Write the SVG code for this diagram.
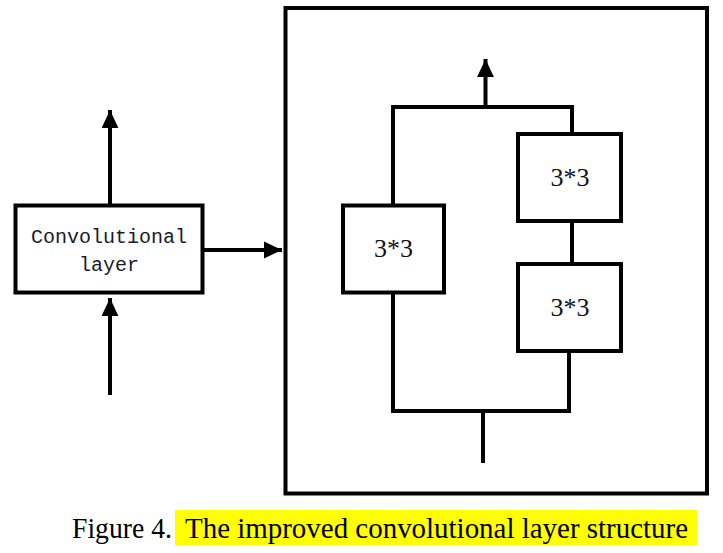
<svg xmlns="http://www.w3.org/2000/svg" width="723" height="553" viewBox="0 0 723 553">
<defs>
<style>
.box{fill:#fff;stroke:#000;stroke-width:4}
.frame{fill:none;stroke:#000;stroke-width:4}
.ln{fill:none;stroke:#000;stroke-width:4;stroke-linejoin:miter}
.mono{font-family:"Liberation Mono","DejaVu Sans Mono",monospace;font-size:20px;fill:#1a1a2e}
.k{font-family:"Liberation Serif","DejaVu Serif",serif;font-size:26px;fill:#111}
.cap{font-family:"Liberation Serif","Times New Roman",serif;font-size:29px;fill:#000}
</style>
<marker id="ah" markerWidth="5" markerHeight="5" refX="4.5" refY="2.5" orient="auto" markerUnits="strokeWidth">
<path d="M0,0.4 L4.5,2.5 L0,4.6 Z" fill="#000"/>
</marker>
</defs>
<rect width="723" height="553" fill="#fff"/>
<g id="frame">
<rect class="frame" x="285.5" y="8" width="421.5" height="485.5"/>
</g>
<g id="connectors">
<line class="ln" x1="110" y1="204" x2="110" y2="110" marker-end="url(#ah)"/>
<line class="ln" x1="110" y1="395" x2="110" y2="298" marker-end="url(#ah)"/>
<line class="ln" x1="204" y1="250" x2="282" y2="250" marker-end="url(#ah)"/>
<line class="ln" x1="485.5" y1="107" x2="485.5" y2="59" marker-end="url(#ah)"/>
<polyline class="ln" points="393,204 393,107 572,107 572,133"/>
<line class="ln" x1="572" y1="222" x2="572" y2="263"/>
<polyline class="ln" points="393,294 393,411 569,411 569,353"/>
<line class="ln" x1="483" y1="411" x2="483" y2="463"/>
</g>
<g id="conv">
<rect class="box" x="15.5" y="205.5" width="187" height="87"/>
<text class="mono" x="109" y="243" text-anchor="middle">Convolutional</text>
<text class="mono" x="109" y="271" text-anchor="middle">layer</text>
</g>
<g id="k1">
<rect class="box" x="343" y="205.5" width="101" height="87"/>
<text class="k" x="393.5" y="257" text-anchor="middle">3*3</text>
</g>
<g id="k2">
<rect class="box" x="518" y="134" width="103" height="87"/>
<text class="k" x="570" y="186" text-anchor="middle">3*3</text>
</g>
<g id="k3">
<rect class="box" x="518" y="264" width="103" height="87"/>
<text class="k" x="570" y="316" text-anchor="middle">3*3</text>
</g>
<g id="caption">
<rect x="175" y="510" width="522" height="35" fill="#ffff00"/>
<text class="cap" y="538"><tspan x="72" textLength="100" lengthAdjust="spacingAndGlyphs">Figure 4.</tspan><tspan x="185" textLength="503" lengthAdjust="spacingAndGlyphs">The improved convolutional layer structure</tspan></text>
</g>
</svg>
